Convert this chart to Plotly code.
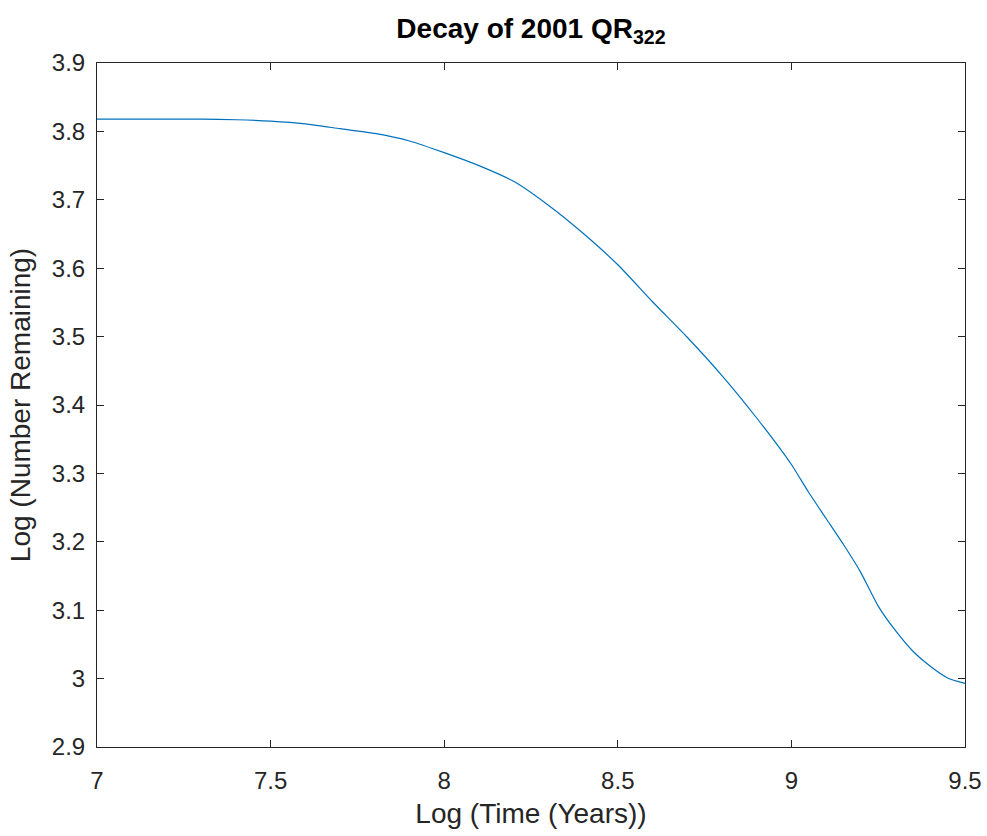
import plotly.graph_objects as go

# Log of elapsed time (years) and log of the number of clones still remaining
log_time = [7.0, 7.1, 7.2, 7.3, 7.4, 7.5, 7.6, 7.7, 7.8, 7.9, 8.0, 8.1, 8.2, 8.3,
            8.4, 8.5, 8.6, 8.7, 8.8, 8.9, 9.0, 9.05, 9.1, 9.15, 9.2, 9.25, 9.3,
            9.35, 9.4, 9.45, 9.5]
log_remaining = [3.818, 3.818, 3.818, 3.818, 3.817, 3.815, 3.811, 3.804, 3.797,
                 3.786, 3.769, 3.750, 3.727, 3.692, 3.651, 3.605, 3.551, 3.499,
                 3.443, 3.381, 3.313, 3.272, 3.234, 3.196, 3.155, 3.106, 3.070,
                 3.040, 3.018, 3.001, 2.993]

x_ticks = [7, 7.5, 8, 8.5, 9, 9.5]
x_tick_labels = ["7", "7.5", "8", "8.5", "9", "9.5"]
y_ticks = [2.9, 3.0, 3.1, 3.2, 3.3, 3.4, 3.5, 3.6, 3.7, 3.8, 3.9]
y_tick_labels = ["2.9", "3", "3.1", "3.2", "3.3", "3.4", "3.5", "3.6", "3.7", "3.8", "3.9"]

axis_color = "#262626"
font_family = "Liberation Sans, Arial, sans-serif"

fig = go.Figure(
    go.Scatter(
        x=log_time,
        y=log_remaining,
        mode="lines",
        line=dict(color="#0072BD", width=1.2, shape="spline", smoothing=0.6),
        showlegend=False,
    )
)

axis_common = dict(
    showline=True,
    linecolor=axis_color,
    linewidth=1,
    mirror="allticks",
    ticks="inside",
    ticklen=7,
    tickwidth=1,
    tickcolor=axis_color,
    showgrid=False,
    zeroline=False,
    automargin=False,
    tickfont=dict(family=font_family, size=24, color=axis_color),
)

fig.update_xaxes(
    range=[7, 9.5],
    tickvals=x_ticks,
    ticktext=x_tick_labels,
    ticklabelstandoff=12,
    title=dict(text="Log (Time (Years))", font=dict(family=font_family, size=28, color=axis_color), standoff=10),
    **axis_common,
)
fig.update_yaxes(
    range=[2.9, 3.9],
    tickvals=y_ticks,
    ticktext=y_tick_labels,
    ticklabelstandoff=6,
    title=dict(text="Log (Number Remaining)", font=dict(family=font_family, size=28, color=axis_color), standoff=13),
    **axis_common,
)

fig.update_layout(
    width=987,
    height=836,
    margin=dict(l=97, r=22, t=63, b=89),
    paper_bgcolor="white",
    plot_bgcolor="white",
    title=dict(
        text="<b>Decay of 2001 QR<sub>322</sub></b>",
        x=531 / 987,
        xanchor="center",
        xref="container",
        y=1 - 28 / 836,
        yanchor="middle",
        yref="container",
        font=dict(family=font_family, size=28, color="black"),
    ),
)

fig.write_html("out.html")
